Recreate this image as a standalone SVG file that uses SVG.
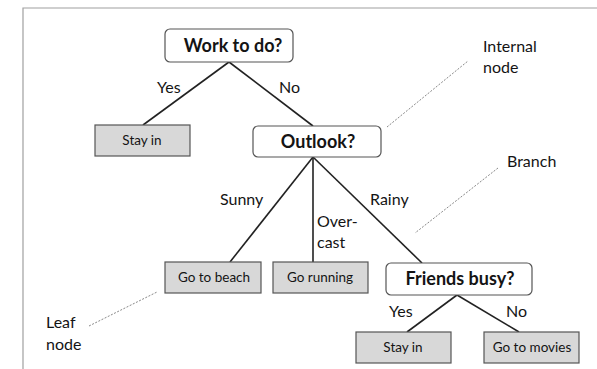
<svg xmlns="http://www.w3.org/2000/svg" width="597" height="369" viewBox="0 0 597 369">
  <style>
    .frame { stroke: #a0a0a0; stroke-width: 1.2; fill: none; }
    .edge { stroke: #222; stroke-width: 1.6; fill: none; }
    .hint { stroke: #888; stroke-width: 1; stroke-dasharray: 2 1.5; fill: none; }
    .decision { fill: #fff; stroke: #555; stroke-width: 1.2; }
    .leaf { fill: #d8d8d8; stroke: #555; stroke-width: 1.2; }
    text { font-family: Lato, "Open Sans", "Liberation Sans", sans-serif; fill: #141414; }
    .q { font-size: 18px; font-weight: bold; text-anchor: middle; }
    .l { font-size: 13.5px; text-anchor: middle; }
    .lab { font-size: 16px; }
  </style>
  <rect width="597" height="369" fill="#fff"/>
  <path class="frame" d="M23 369 V8 H597"/>

  <g id="connectors">
    <path class="edge" d="M229 62 L143 125"/>
    <path class="edge" d="M229 62 L313 126"/>
    <path class="edge" d="M313 157 L230 262"/>
    <path class="edge" d="M313 157 V262"/>
    <path class="edge" d="M313 157 L422 263"/>
    <path class="edge" d="M457 295 L407 332"/>
    <path class="edge" d="M457 295 L519 332"/>
    <path class="hint" d="M387 127 L468 61"/>
    <path class="hint" d="M498 168 L415 233"/>
    <path class="hint" d="M89 326 L157 292"/>
  </g>

  <g id="edge-labels">
    <text class="lab" x="157" y="93">Yes</text>
    <text class="lab" x="279" y="93">No</text>
    <text class="lab" x="220" y="205">Sunny</text>
    <text class="lab" x="317" y="227">Over-</text>
    <text class="lab" x="317" y="248">cast</text>
    <text class="lab" x="370" y="205">Rainy</text>
    <text class="lab" x="389" y="317">Yes</text>
    <text class="lab" x="506" y="317">No</text>
  </g>

  <g id="annotations">
    <text class="lab" x="483" y="52">Internal</text>
    <text class="lab" x="483" y="73">node</text>
    <text class="lab" x="507" y="167">Branch</text>
    <text class="lab" x="46" y="328">Leaf</text>
    <text class="lab" x="46" y="350">node</text>
  </g>

  <g id="work">
    <rect class="decision" x="165" y="29" width="128" height="33" rx="5"/>
    <text class="q" x="233" y="52">Work to do?</text>
  </g>
  <g id="stay-in-1">
    <rect class="leaf" x="95" y="125" width="95" height="31"/>
    <text class="l" x="142" y="145">Stay in</text>
  </g>
  <g id="outlook">
    <rect class="decision" x="253" y="126" width="128" height="31" rx="5"/>
    <text class="q" x="318" y="148">Outlook?</text>
  </g>
  <g id="beach">
    <rect class="leaf" x="165" y="262" width="96" height="31"/>
    <text class="l" x="214" y="282">Go to beach</text>
  </g>
  <g id="running">
    <rect class="leaf" x="273" y="262" width="95" height="31"/>
    <text class="l" x="320" y="282">Go running</text>
  </g>
  <g id="friends">
    <rect class="decision" x="386" y="263" width="146" height="32" rx="5"/>
    <text class="q" x="460" y="285">Friends busy?</text>
  </g>
  <g id="stay-in-2">
    <rect class="leaf" x="356" y="332" width="95" height="31"/>
    <text class="l" x="403" y="352">Stay in</text>
  </g>
  <g id="movies">
    <rect class="leaf" x="484" y="332" width="95" height="31"/>
    <text class="l" x="532" y="352">Go to movies</text>
  </g>
</svg>
